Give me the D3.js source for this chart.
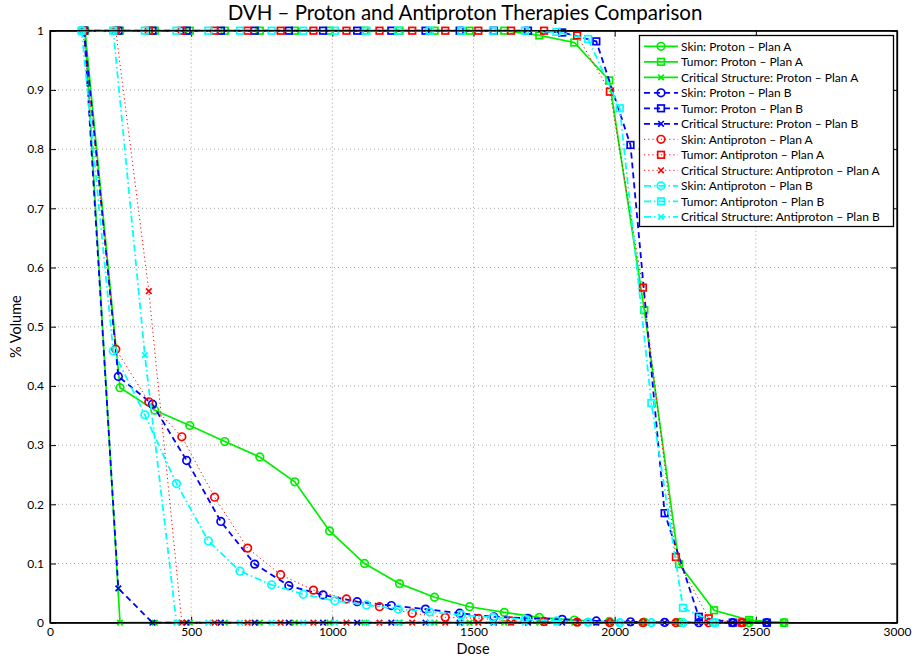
<!DOCTYPE html>
<html>
<head>
<meta charset="utf-8">
<script src="https://cdn.jsdelivr.net/npm/d3@7"></script>
<style>
  html, body { margin: 0; padding: 0; background: #fff; }
  svg { display: block; font-family: Lato, "Open Sans", sans-serif; }
</style>
</head>
<body>
<svg id="chart" width="913" height="659"></svg>
<script>
// ---------------- DATA ----------------
const doseProtonA = [124, 248, 371, 495, 619, 743, 867, 990, 1114, 1238, 1362, 1486, 1609, 1733, 1857, 1981, 2105, 2228, 2352, 2476, 2600];
const doseProtonB = [121, 242, 363, 484, 605, 725, 846, 967, 1088, 1209, 1330, 1451, 1572, 1693, 1814, 1935, 2056, 2177, 2298, 2418, 2539];
const doseAntiA   = [117, 233, 350, 467, 583, 700, 817, 933, 1050, 1167, 1283, 1400, 1517, 1633, 1750, 1867, 1983, 2100, 2217, 2333, 2450];
const doseAntiB   = [112, 224, 336, 448, 561, 673, 785, 897, 1009, 1121, 1233, 1345, 1457, 1569, 1682, 1794, 1906, 2018, 2130, 2242, 2354];

const skinProtonA     = [1, 0.397, 0.359, 0.333, 0.306, 0.280, 0.238, 0.155, 0.100, 0.066, 0.043, 0.027, 0.0175, 0.009, 0.0045, 0.002, 0.001, 0.0005, 0, 0, 0];
const tumorProtonA    = [1, 1, 1, 1, 1, 1, 1, 1, 1, 1, 1, 1, 1, 0.992, 0.980, 0.916, 0.528, 0.099, 0.021, 0.0045, 0];
const criticalProtonA = [1, 0, 0, 0, 0, 0, 0, 0, 0, 0, 0, 0, 0, 0, 0, 0, 0, 0, 0, 0, 0];

const skinProtonB     = [1, 0.416, 0.369, 0.274, 0.171, 0.099, 0.0625, 0.047, 0.0355, 0.029, 0.023, 0.016, 0.010, 0.0074, 0.0057, 0.003, 0.0015, 0.0005, 0, 0, 0];
const tumorProtonB    = [1, 1, 1, 1, 1, 1, 1, 1, 1, 1, 1, 1, 1, 1, 0.997, 0.982, 0.807, 0.185, 0.010, 0, 0];
const criticalProtonB = [1, 0.058, 0, 0, 0, 0, 0, 0, 0, 0, 0, 0, 0, 0, 0, 0, 0, 0, 0, 0, 0];

const skinAntiA       = [1, 0.462, 0.373, 0.314, 0.212, 0.126, 0.081, 0.055, 0.040, 0.027, 0.016, 0.009, 0.0074, 0.003, 0.002, 0.001, 0, 0, 0, 0, 0];
const tumorAntiA      = [1, 1, 1, 1, 1, 1, 1, 1, 1, 1, 1, 1, 1, 1, 1, 0.992, 0.897, 0.566, 0.111, 0.0074, 0];
const criticalAntiA   = [1, 1, 0.560, 0, 0, 0, 0, 0, 0, 0, 0, 0, 0, 0, 0, 0, 0, 0, 0, 0, 0];

const skinAntiB       = [1, 0.459, 0.351, 0.235, 0.138, 0.087, 0.064, 0.048, 0.037, 0.030, 0.023, 0.018, 0.013, 0.009, 0.0057, 0.003, 0.001, 0, 0, 0, 0];
const tumorAntiB      = [1, 1, 1, 1, 1, 1, 1, 1, 1, 1, 1, 1, 1, 1, 1, 0.998, 0.986, 0.869, 0.371, 0.025, 0];
const criticalAntiB   = [1, 1, 0.452, 0, 0, 0, 0, 0, 0, 0, 0, 0, 0, 0, 0, 0, 0, 0, 0, 0, 0];

const seriesNames = [
  "Skin: Proton – Plan A", "Tumor: Proton – Plan A", "Critical Structure: Proton – Plan A",
  "Skin: Proton – Plan B", "Tumor: Proton – Plan B", "Critical Structure: Proton – Plan B",
  "Skin: Antiproton – Plan A", "Tumor: Antiproton – Plan A", "Critical Structure: Antiproton – Plan A",
  "Skin: Antiproton – Plan B", "Tumor: Antiproton – Plan B", "Critical Structure: Antiproton – Plan B"
];
const xTicks = [0, 500, 1000, 1500, 2000, 2500, 3000];
const yTicks = [0, 0.1, 0.2, 0.3, 0.4, 0.5, 0.6, 0.7, 0.8, 0.9, 1];
const yTickLabels = ["0", "0.1", "0.2", "0.3", "0.4", "0.5", "0.6", "0.7", "0.8", "0.9", "1"];

// ---------------- STYLE ----------------
const planStyles = [
  { color: "#00ee00", dash: null,        width: 1.7 },   // Proton A  solid
  { color: "#0000ff", dash: "6,4",       width: 1.8 },   // Proton B  dashed
  { color: "#ff0000", dash: "1.2,3",     width: 1.0 },   // Antiproton A dotted
  { color: "#00ffff", dash: "7,3,1.5,3", width: 1.8 }    // Antiproton B dash-dot
];
const markerTypes = ["circle", "square", "cross"];

const series = [
  { x: doseProtonA, y: skinProtonA,     plan: 0, m: 0 },
  { x: doseProtonA, y: tumorProtonA,    plan: 0, m: 1 },
  { x: doseProtonA, y: criticalProtonA, plan: 0, m: 2 },
  { x: doseProtonB, y: skinProtonB,     plan: 1, m: 0 },
  { x: doseProtonB, y: tumorProtonB,    plan: 1, m: 1 },
  { x: doseProtonB, y: criticalProtonB, plan: 1, m: 2 },
  { x: doseAntiA,   y: skinAntiA,       plan: 2, m: 0 },
  { x: doseAntiA,   y: tumorAntiA,      plan: 2, m: 1 },
  { x: doseAntiA,   y: criticalAntiA,   plan: 2, m: 2 },
  { x: doseAntiB,   y: skinAntiB,       plan: 3, m: 0 },
  { x: doseAntiB,   y: tumorAntiB,      plan: 3, m: 1 },
  { x: doseAntiB,   y: criticalAntiB,   plan: 3, m: 2 }
].map((s, i) => ({ ...s, name: seriesNames[i], pts: s.x.map((d, j) => [d, s.y[j]]) }));

// ---------------- LAYOUT ----------------
const L = 50, R = 897, T = 30.7, B = 622.7;
const svg = d3.select("#chart");
const x = d3.scaleLinear().domain([0, 3000]).range([L, R]);
const y = d3.scaleLinear().domain([0, 1]).range([B, T]);

// grid
const grid = svg.append("g");
grid.selectAll("line.gx").data(xTicks.slice(1, -1)).enter().append("line")
  .attr("x1", d => x(d)).attr("x2", d => x(d)).attr("y1", T).attr("y2", B)
  .attr("stroke", "#8a8a8a").attr("stroke-width", 0.8).attr("stroke-dasharray", "1,3");
grid.selectAll("line.gy").data(yTicks.slice(1, -1)).enter().append("line")
  .attr("x1", L).attr("x2", R).attr("y1", d => y(d)).attr("y2", d => y(d))
  .attr("stroke", "#8a8a8a").attr("stroke-width", 0.8).attr("stroke-dasharray", "1,3");

// axes with inward ticks
const tk = 6;
const axB = svg.append("g").attr("transform", `translate(0,${B})`)
  .call(d3.axisBottom(x).tickValues(xTicks).tickFormat(d3.format("d")).tickSizeInner(-tk).tickSizeOuter(0).tickPadding(5));
const axT = svg.append("g").attr("transform", `translate(0,${T})`)
  .call(d3.axisTop(x).tickValues(xTicks).tickFormat("").tickSizeInner(-tk).tickSizeOuter(0));
const axL = svg.append("g").attr("transform", `translate(${L},0)`)
  .call(d3.axisLeft(y).tickValues(yTicks).tickFormat((d, i) => yTickLabels[i]).tickSizeInner(-tk).tickSizeOuter(0).tickPadding(6));
const axR = svg.append("g").attr("transform", `translate(${R},0)`)
  .call(d3.axisRight(y).tickValues(yTicks).tickFormat("").tickSizeInner(-tk).tickSizeOuter(0));
[axB, axT, axL, axR].forEach(a => {
  a.select(".domain").attr("stroke", "#000").attr("stroke-width", 1.3);
  a.selectAll(".tick line").attr("stroke", "#000").attr("stroke-width", 1);
  a.selectAll("text").attr("font-family", "Lato, 'Open Sans', sans-serif").attr("font-size", 12).attr("fill", "#000");
});

// series
const lineGen = d3.line().x(d => x(d[0])).y(d => y(d[1]));
function drawMarker(g, type, cx, cy, color) {
  if (type === "circle") {
    g.append("circle").attr("cx", cx).attr("cy", cy).attr("r", 3.8)
      .attr("fill", "none").attr("stroke", color).attr("stroke-width", 1.7);
  } else if (type === "square") {
    g.append("rect").attr("x", cx - 3.3).attr("y", cy - 3.3).attr("width", 6.6).attr("height", 6.6)
      .attr("fill", "none").attr("stroke", color).attr("stroke-width", 1.7);
  } else {
    const s = 2.8;
    g.append("path").attr("d", `M${cx - s},${cy - s}L${cx + s},${cy + s}M${cx - s},${cy + s}L${cx + s},${cy - s}`)
      .attr("stroke", color).attr("stroke-width", 1.7).attr("fill", "none");
  }
}
const plotG = svg.append("g");
series.forEach(s => {
  const st = planStyles[s.plan];
  const g = plotG.append("g");
  g.append("path").attr("d", lineGen(s.pts)).attr("fill", "none")
    .attr("stroke", st.color).attr("stroke-width", st.width)
    .attr("stroke-dasharray", st.dash);
  s.pts.forEach(p => drawMarker(g, markerTypes[s.m], x(p[0]), y(p[1]), st.color));
});

// redraw frame on top
svg.append("rect").attr("x", L).attr("y", T).attr("width", R - L).attr("height", B - T)
  .attr("fill", "none").attr("stroke", "#000").attr("stroke-width", 1.3);

// title and labels
svg.append("text").attr("x", 465).attr("y", 20).attr("text-anchor", "middle")
  .attr("font-size", 20.5).attr("fill", "#000").text("DVH – Proton and Antiproton Therapies Comparison");
svg.append("text").attr("x", 473).attr("y", 654).attr("text-anchor", "middle")
  .attr("font-size", 14.5).attr("fill", "#000").text("Dose");
svg.append("text").attr("transform", `translate(21,${(T + B) / 2}) rotate(-90)`).attr("text-anchor", "middle")
  .attr("font-size", 14.5).attr("fill", "#000").text("% Volume");

// legend
const lg = svg.append("g");
const lx = 639.5, ly = 35.5, lw = 254, lh = 191;
lg.append("rect").attr("x", lx).attr("y", ly).attr("width", lw).attr("height", lh)
  .attr("fill", "#fff").attr("stroke", "#000").attr("stroke-width", 1.3);
series.forEach((s, i) => {
  const st = planStyles[s.plan];
  const yy = 46.3 + i * 15.5;
  lg.append("line").attr("x1", 644).attr("x2", 678).attr("y1", yy).attr("y2", yy)
    .attr("stroke", st.color).attr("stroke-width", st.width).attr("stroke-dasharray", st.dash);
  drawMarker(lg, markerTypes[s.m], 661, yy, st.color);
  lg.append("text").attr("x", 681).attr("y", yy + 4.2).attr("font-size", 12).attr("fill", "#000").text(s.name);
});
</script>
</body>
</html>
